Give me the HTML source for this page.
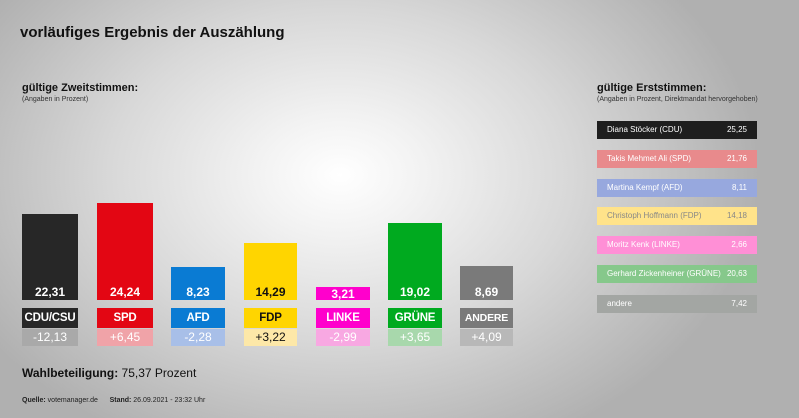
<!DOCTYPE html>
<html><head><meta charset="utf-8"><style>
body{margin:0;width:799px;height:418px;overflow:hidden;font-family:"Liberation Sans",sans-serif;
background:radial-gradient(ellipse 420px 300px at 340px 175px,#fff 0%,#f2f2f2 20%,#d8d8d8 55%,#bdbdbd 85%,#b0b0b0 100%);position:relative}
.a{position:absolute}
.bar{position:absolute;color:#fff;font-weight:bold;font-size:12px;text-align:center;display:flex;align-items:flex-end;justify-content:center;line-height:14px;padding-bottom:1px;box-sizing:border-box}
.lab{position:absolute;height:20px;line-height:20px;font-weight:bold;font-size:11.5px;text-align:center;color:#fff;letter-spacing:-0.2px}
.d{position:absolute;height:17px;line-height:17px;font-size:12px;text-align:center;color:#fff}
.r{position:absolute;left:597px;width:160px;height:18px;line-height:18px;font-size:8px;color:#fff;box-sizing:border-box;padding:0 10px}
.r span{float:right}
</style></head><body>
<div class="a" style="left:20px;top:24px;font-size:15px;font-weight:bold;color:#111">vorläufiges Ergebnis der Auszählung</div>
<div class="a" style="left:22px;top:82px;font-size:11px;font-weight:bold;color:#111">gültige Zweitstimmen:</div>
<div class="a" style="left:22px;top:96px;font-size:7px;color:#333">(Angaben in Prozent)</div>
<div class="a" style="left:597px;top:82px;font-size:11px;font-weight:bold;color:#111">gültige Erststimmen:</div>
<div class="a" style="left:597px;top:96px;font-size:7px;color:#333">(Angaben in Prozent, Direktmandat hervorgehoben)</div>

<div class="bar" style="left:22px;top:214px;width:56px;height:86px;background:#272727">22,31</div>
<div class="bar" style="left:97px;top:203px;width:56px;height:97px;background:#e30613">24,24</div>
<div class="bar" style="left:171px;top:267px;width:54px;height:33px;background:#0a7bd3">8,23</div>
<div class="bar" style="left:244px;top:243px;width:53px;height:57px;background:#ffd500;color:#111">14,29</div>
<div class="bar" style="left:316px;top:287px;width:54px;height:13px;background:#ff00cc;line-height:12px;padding-bottom:0">3,21</div>
<div class="bar" style="left:388px;top:223px;width:54px;height:77px;background:#00aa1f">19,02</div>
<div class="bar" style="left:460px;top:266px;width:53px;height:34px;background:#7a7a7a">8,69</div>

<div class="lab" style="left:22px;top:308px;width:56px;background:#272727">CDU/CSU</div>
<div class="lab" style="left:97px;top:308px;width:56px;background:#e30613">SPD</div>
<div class="lab" style="left:171px;top:308px;width:54px;background:#0a7bd3">AFD</div>
<div class="lab" style="left:244px;top:308px;width:53px;background:#ffd500;color:#111">FDP</div>
<div class="lab" style="left:316px;top:308px;width:54px;background:#ff00cc">LINKE</div>
<div class="lab" style="left:388px;top:308px;width:54px;background:#00aa1f">GRÜNE</div>
<div class="lab" style="left:460px;top:308px;width:53px;background:#7a7a7a;font-size:10.5px">ANDERE</div>

<div class="d" style="left:22px;top:329px;width:56px;background:#a9a9a9">-12,13</div>
<div class="d" style="left:97px;top:329px;width:56px;background:#f0a3a8">+6,45</div>
<div class="d" style="left:171px;top:329px;width:54px;background:#a8bfe8">-2,28</div>
<div class="d" style="left:244px;top:329px;width:53px;background:#fde8a8;color:#111">+3,22</div>
<div class="d" style="left:316px;top:329px;width:54px;background:#f8a8e2">-2,99</div>
<div class="d" style="left:388px;top:329px;width:54px;background:#a8d8ac">+3,65</div>
<div class="d" style="left:460px;top:329px;width:53px;background:#b8b8b8">+4,09</div>

<div class="r" style="top:121px;background:#1e1e1e">Diana Stöcker (CDU)<span>25,25</span></div>
<div class="r" style="top:150px;background:#e88a8c">Takis Mehmet Ali (SPD)<span>21,76</span></div>
<div class="r" style="top:179px;background:#97a8de">Martina Kempf (AFD)<span>8,11</span></div>
<div class="r" style="top:207px;background:#ffe38a;color:#888">Christoph Hoffmann (FDP)<span>14,18</span></div>
<div class="r" style="top:236px;background:#ff8fd6">Moritz Kenk (LINKE)<span>2,66</span></div>
<div class="r" style="top:265px;background:#86c88b">Gerhard Zickenheiner (GRÜNE)<span>20,63</span></div>
<div class="r" style="top:295px;background:#a3a6a3">andere<span>7,42</span></div>

<div class="a" style="left:22px;top:366px;font-size:12px;color:#111"><b>Wahlbeteiligung:</b> 75,37 Prozent</div>
<div class="a" style="left:22px;top:397px;font-size:7px;color:#222"><b>Quelle:</b> votemanager.de &nbsp;&nbsp;&nbsp;&nbsp;&nbsp;<b>Stand:</b> 26.09.2021 - 23:32 Uhr</div>
</body></html>
